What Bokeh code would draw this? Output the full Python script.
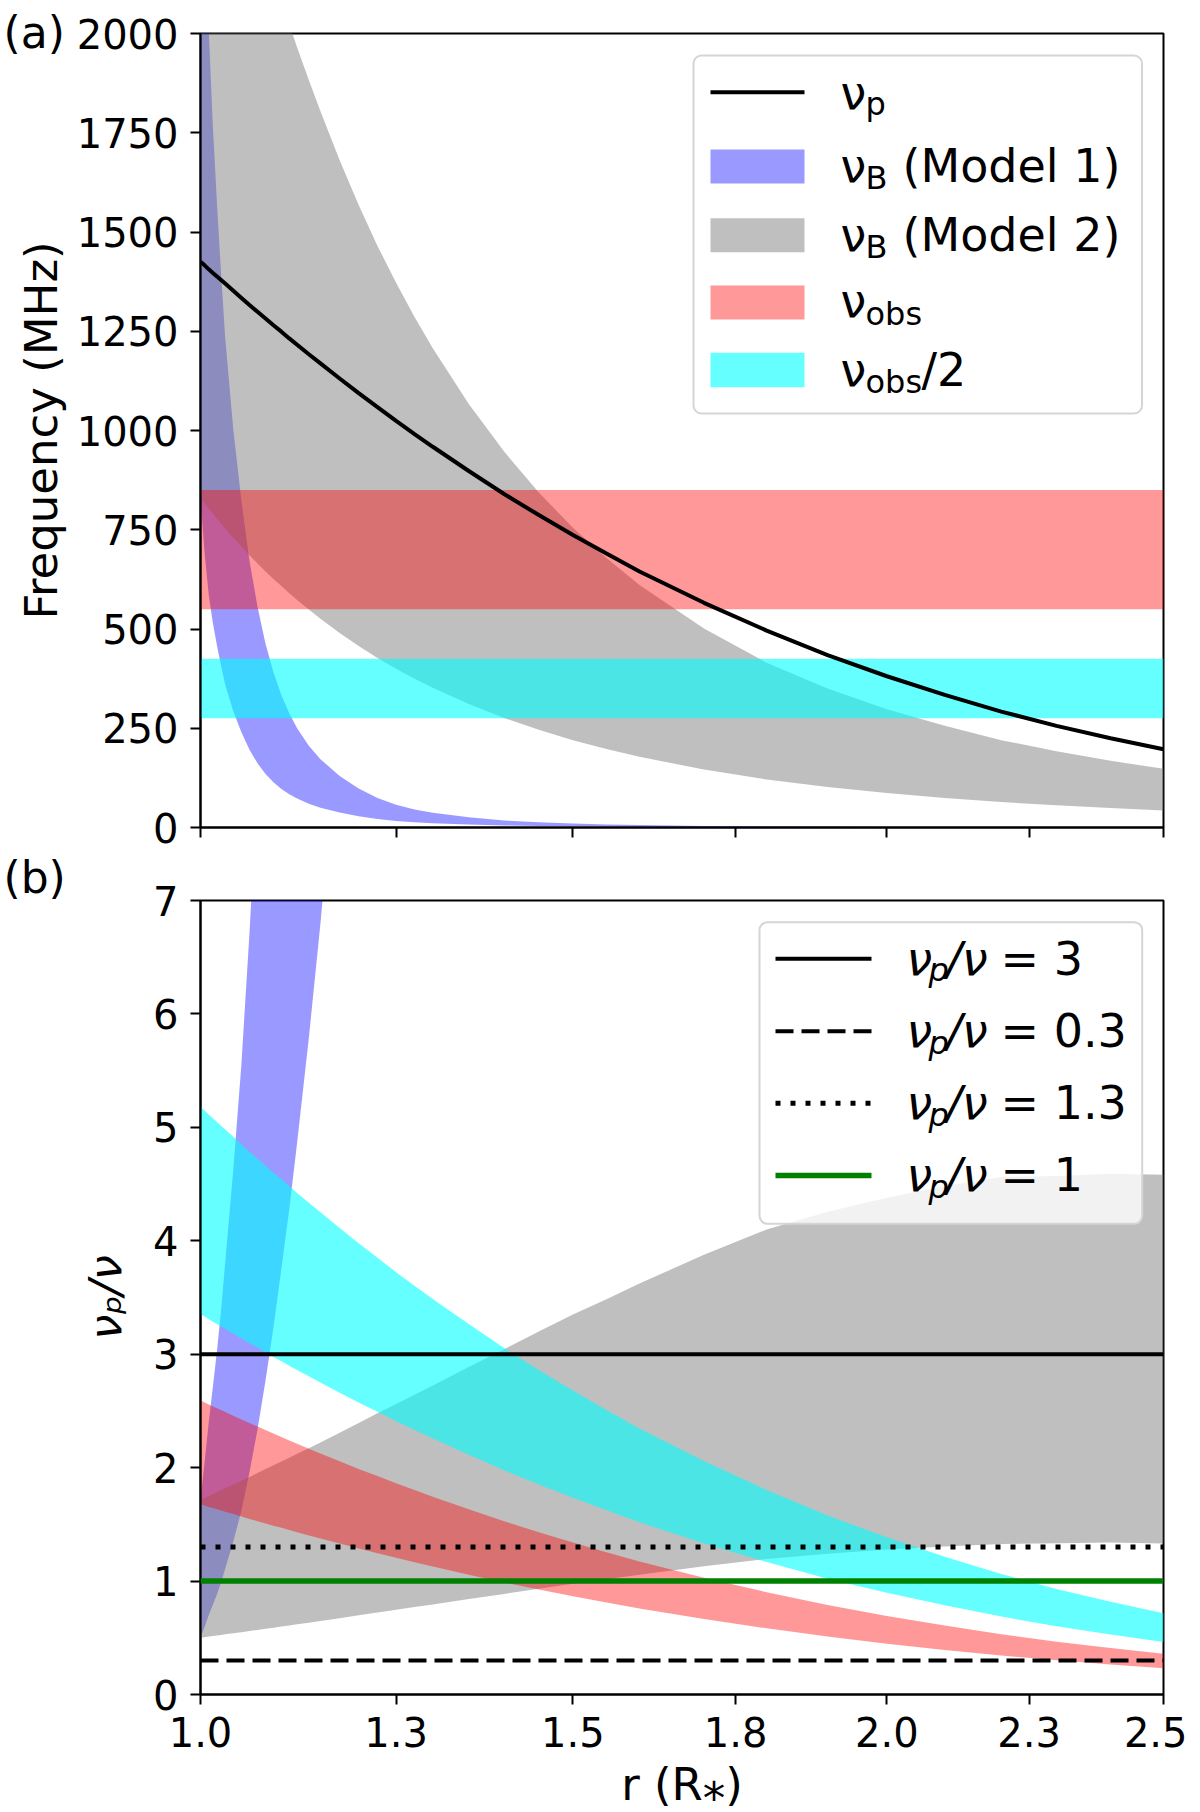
import math
import numpy as np
from bokeh.plotting import figure
from bokeh.models import (ColumnDataSource, Range1d, FixedTicker, CustomJSTickFormatter,
                          CustomJSTransform, BoxAnnotation, Label, Span, Title)
from bokeh.transform import transform
from bokeh.layouts import column
from bokeh.embed import file_html
from bokeh.resources import INLINE

# ---------------- values ----------------
r = [1.0, 1.005, 1.01, 1.015, 1.02, 1.025, 1.03, 1.04, 1.05, 1.06,
     1.07, 1.08, 1.09, 1.1, 1.11, 1.12, 1.135, 1.15, 1.175, 1.2,
     1.225, 1.25, 1.275, 1.3, 1.35, 1.4, 1.45, 1.5, 1.55, 1.6,
     1.7, 1.8, 1.9, 2.0, 2.1, 2.2, 2.3, 2.4, 2.5]
nu_p = [1425, 1416, 1406, 1397, 1388, 1379, 1370, 1352, 1334, 1316,
        1299, 1282, 1265, 1249, 1232, 1216, 1192, 1169, 1131, 1094,
        1059, 1024, 991, 959, 898, 840, 787, 737, 690, 645,
        566, 496, 434, 381, 334, 292, 256, 225, 197]
nu_B1_low = [830, 690, 585, 515, 458, 407, 360, 292, 240, 196,
             162, 135, 114, 97, 84, 73, 60, 50, 38, 28.5,
             21.5, 16.5, 13.3, 10.8, 7.5, 5.2, 3.9, 2.9, 2.25, 1.75,
             1.12, 0.74, 0.51, 0.36, 0.26, 0.19, 0.145, 0.11, 0.085]
nu_B1_high = [2847, 2367, 2007, 1766, 1571, 1396, 1235, 1002, 823, 672,
              556, 463, 391, 333, 288, 250, 206, 172, 130, 98,
              74, 57, 45.6, 37, 25.7, 17.8, 13.4, 9.9, 7.7, 6.0,
              3.84, 2.54, 1.75, 1.23, 0.89, 0.65, 0.50, 0.38, 0.29]
nu_B2_low = [830, 817, 803, 791, 778, 766, 753, 730, 708, 686,
             665, 645, 626, 608, 590, 573, 549, 526, 490, 457,
             427, 400, 375, 352, 311, 276, 246, 220, 198, 178,
             146, 121, 102, 87, 74.5, 64, 56, 49, 43]
nu_B2_high = [2847, 2802, 2754, 2713, 2669, 2627, 2583, 2504, 2428, 2353,
              2281, 2212, 2147, 2085, 2024, 1965, 1883, 1804, 1681, 1568,
              1465, 1372, 1286, 1207, 1067, 947, 844, 755, 679, 611,
              501, 415, 350, 298, 256, 220, 192, 168, 148]
nu_obs = [550, 850]          # MHz band
nu_obs_half = [275, 425]     # MHz band (nu_obs / 2)
r_span = [1.0, 2.5]
ratio_levels = [3, 0.3, 1.3, 1]
xtick_vals = [1.0, 1.25, 1.5, 1.75, 2.0, 2.25, 2.5]
xtick_labels = ["1.0", "1.3", "1.5", "1.8", "2.0", "2.3", "2.5"]
ytick_top = [0, 250, 500, 750, 1000, 1250, 1500, 1750, 2000]
ytick_bot = [0, 1, 2, 3, 4, 5, 6, 7]

FONT = "DejaVu Sans"
TICK_FS = 40

# ---------------- layout constants (page pixels) ----------------
FRAME_L, FRAME_W, FRAME_H = 200, 963, 794
TOP_T, TOP_B = 33, 827
BOT_T, BOT_B = 900, 1694
GAP_A = 24                      # border below frame (a)
GAP_B = BOT_T - TOP_B - GAP_A   # border above frame (b)
X0, X1 = math.sqrt(r_span[0]), math.sqrt(r_span[1])
Y_TOP, Y_BOT = ytick_top[-1], ytick_bot[-1]


def px_x(px):
    return X0 + (px - FRAME_L) / FRAME_W * (X1 - X0)


def px_ya(py):
    return (TOP_B - py) / (TOP_B - TOP_T) * Y_TOP


def px_yb(py):
    return (BOT_B - py) / (BOT_B - BOT_T) * Y_BOT


sqrt_t = CustomJSTransform(
    func="return Math.sqrt(x);",
    v_func="""
const out = new Float64Array(xs.length);
for (let i = 0; i < xs.length; i++) { out[i] = Math.sqrt(xs[i]); }
return out;
""")
X = transform("r", sqrt_t)

tick_pos = [math.sqrt(v) for v in xtick_vals]


def make_fig(ymax, yticks, border_top, border_bottom, show_xlabels):
    p = figure(frame_width=FRAME_W, frame_height=FRAME_H,
               x_range=Range1d(X0, X1), y_range=Range1d(0, ymax),
               output_backend="svg", toolbar_location=None, title=None,
               min_border_left=FRAME_L, min_border_right=24,
               min_border_top=border_top, min_border_bottom=border_bottom,
               background_fill_color="white", border_fill_color="white")
    p.xgrid.visible = False
    p.ygrid.visible = False
    p.outline_line_color = "black"
    p.outline_line_width = 2
    p.outline_line_alpha = 1
    p.xaxis.ticker = FixedTicker(ticks=tick_pos, minor_ticks=[])
    if show_xlabels:
        p.xaxis.formatter = CustomJSTickFormatter(args=dict(pos=tick_pos, labs=xtick_labels), code="""
let best = 0; let d = Infinity;
for (let i = 0; i < pos.length; i++) { const e = Math.abs(pos[i] - tick); if (e < d) { d = e; best = i; } }
return labs[best];
""")
    else:
        p.xaxis.formatter = CustomJSTickFormatter(code="return '';")
    p.yaxis.ticker = FixedTicker(ticks=yticks, minor_ticks=[])
    for ax in (p.xaxis[0], p.yaxis[0]):
        ax.axis_line_color = "black"
        ax.axis_line_width = 2
        ax.major_tick_line_color = "black"
        ax.major_tick_line_width = 2
        ax.major_tick_out = 10
        ax.major_tick_in = 0
        ax.minor_tick_out = 0
        ax.minor_tick_in = 0
        ax.major_label_text_font = FONT
        ax.major_label_text_font_size = f"{TICK_FS}px"
        ax.major_label_text_color = "black"
        ax.axis_label_text_font = FONT
        ax.axis_label_text_font_size = "45px"
        ax.axis_label_text_color = "black"
        ax.axis_label_text_font_style = "normal"
    p.xaxis.major_label_standoff = 12
    p.yaxis.major_label_standoff = 12
    return p


def text(p, px, base_py, conv, s, size, italic=False):
    # centre of the text box lies 0.346 em above the baseline for DejaVu Sans
    p.add_layout(Label(x=px_x(px), y=conv(base_py - 0.346 * size), text=s, text_font=FONT,
                       text_font_size=f"{size}px",
                       text_font_style="italic" if italic else "normal", text_color="black",
                       text_baseline="middle", text_align="left"))


def box(p, l, r_, t, b, **kw):
    p.add_layout(BoxAnnotation(left=l, right=r_, top=t, bottom=b, **kw))


def tag(p, s, standoff):
    p.add_layout(Title(text=s, align="left", offset=-197, standoff=standoff,
                       vertical_align="bottom", text_font=FONT, text_font_size="44px",
                       text_font_style="normal", text_color="black"), "above")


# ======================= (a) frequencies =======================
src_a = ColumnDataSource(dict(r=r, nu_p=nu_p, b1_lo=nu_B1_low, b1_hi=nu_B1_high,
                              b2_lo=nu_B2_low, b2_hi=nu_B2_high))
src_band = ColumnDataSource(dict(r=r_span,
                                 obs_lo=[nu_obs[0]] * 2, obs_hi=[nu_obs[1]] * 2,
                                 half_lo=[nu_obs_half[0]] * 2, half_hi=[nu_obs_half[1]] * 2))

p1 = make_fig(Y_TOP, ytick_top, TOP_T, GAP_A, False)
p1.xaxis.major_label_standoff = 0
p1.yaxis.axis_label = "Frequency (MHz)"
p1.yaxis.axis_label_standoff = 6

p1.varea(x=X, y1="b1_lo", y2="b1_hi", source=src_a, fill_color="blue", fill_alpha=0.4)
p1.varea(x=X, y1="b2_lo", y2="b2_hi", source=src_a, fill_color="gray", fill_alpha=0.5)
p1.varea(x=X, y1="obs_lo", y2="obs_hi", source=src_band, fill_color="red", fill_alpha=0.4)
p1.varea(x=X, y1="half_lo", y2="half_hi", source=src_band, fill_color="cyan", fill_alpha=0.6)
p1.line(x=X, y="nu_p", source=src_a, line_color="black", line_width=4)

# legend (a)
box(p1, px_x(693), px_x(1141.5), px_ya(55), px_ya(413), fill_color="white", fill_alpha=0.8,
    line_color="#d5d5d5", line_alpha=1, line_width=2, border_radius=8)
for (t, b), col, a in [((149, 183), "blue", 0.4), ((217.7, 251.7), "gray", 0.5),
                       ((285, 319), "red", 0.4), ((352.3, 386.7), "cyan", 0.6)]:
    box(p1, px_x(710), px_x(804), px_ya(t), px_ya(b), fill_color=col, fill_alpha=a,
        line_alpha=0)
p1.segment(x0=[px_x(710)], y0=[px_ya(91.7)], x1=[px_x(804)], y1=[px_ya(91.7)],
           line_color="black", line_width=4, level="overlay")
rows_a = [(108.3, "p", 6, None), (181.7, "B", 6.6, "(Model 1)"), (250.7, "B", 6.6, "(Model 2)"),
          (316.7, "obs", 7.5, None), (385.0, "obs", 7.5, "/2")]
for base, sub, drop, rest in rows_a:
    text(p1, 840, base, px_ya, "ν", 46)
    text(p1, 865, base + drop, px_ya, sub, 32)
    if rest == "/2":
        text(p1, 921, base, px_ya, rest, 46)
    elif rest:
        text(p1, 902, base, px_ya, rest, 46)

tag(p1, "(a)", -48.6)

# ======================= (b) ratios =======================
nu_p_a = np.asarray(nu_p, dtype=float)
src_b = ColumnDataSource(dict(
    r=r,
    b1_lo=nu_p_a / np.asarray(nu_B1_high, dtype=float),
    b1_hi=nu_p_a / np.asarray(nu_B1_low, dtype=float),
    b2_lo=nu_p_a / np.asarray(nu_B2_high, dtype=float),
    b2_hi=nu_p_a / np.asarray(nu_B2_low, dtype=float),
    obs_lo=nu_p_a / nu_obs[1], obs_hi=nu_p_a / nu_obs[0],
    half_lo=nu_p_a / nu_obs_half[1], half_hi=nu_p_a / nu_obs_half[0]))

p2 = make_fig(Y_BOT, ytick_bot, GAP_B, 104, True)
p2.yaxis.axis_label = "νₚ/ν"
p2.yaxis.axis_label_text_font_style = "italic"
p2.yaxis.axis_label_standoff = 18
p2.xaxis.axis_label = "r (R⁎)"
p2.xaxis.axis_label_standoff = 8

p2.varea(x=X, y1="b1_lo", y2="b1_hi", source=src_b, fill_color="blue", fill_alpha=0.4)
p2.varea(x=X, y1="b2_lo", y2="b2_hi", source=src_b, fill_color="gray", fill_alpha=0.5)
p2.varea(x=X, y1="obs_lo", y2="obs_hi", source=src_b, fill_color="red", fill_alpha=0.4)
p2.varea(x=X, y1="half_lo", y2="half_hi", source=src_b, fill_color="cyan", fill_alpha=0.6)

line_styles = [("black", 4, "solid"), ("black", 4, "18 8"), ("black", 5, "5 10"),
               ("green", 5.5, "solid")]
for lvl, (col, w, dash) in zip(ratio_levels, line_styles):
    p2.add_layout(Span(location=lvl, dimension="width", line_color=col, line_width=w,
                       line_dash=dash))

# legend (b)
box(p2, px_x(759), px_x(1141.7), px_yb(921.7), px_yb(1223.3), fill_color="white",
    fill_alpha=0.8, line_color="#d5d5d5", line_alpha=1, line_width=2, border_radius=8)
leg_rows_b = [958.3, 1030.7, 1102.7, 1175.0]
for ly, lvl, (col, w, dash) in zip(leg_rows_b, ratio_levels, line_styles):
    p2.segment(x0=[px_x(775)], y0=[px_yb(ly)], x1=[px_x(871)], y1=[px_yb(ly)],
               line_color=col, line_width=w, line_dash=dash, level="overlay")
    base = ly + 15.7
    text(p2, 906, base, px_yb, "ν", 46, italic=True)
    text(p2, 928, base + 7, px_yb, "p", 32, italic=True)
    text(p2, 946, base, px_yb, "/ν", 46, italic=True)
    text(p2, 1000, base, px_yb, f"= {lvl}", 46)

tag(p2, "(b)", -5)

layout = column(p1, p2)
open("out.html", "w").write(file_html(layout, INLINE))
